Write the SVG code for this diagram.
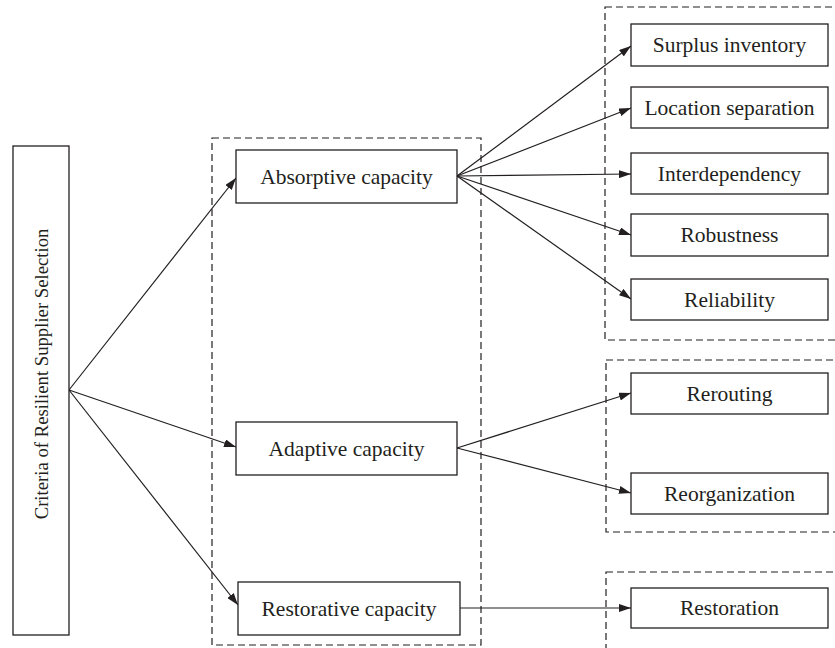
<svg xmlns="http://www.w3.org/2000/svg" width="835" height="648" viewBox="0 0 835 648">
<style>
.box{fill:#fff;stroke:#231f20;stroke-width:1.3}
.grp{fill:none;stroke:#231f20;stroke-width:1.2;stroke-dasharray:7 4}
.t{font-family:"Liberation Serif",serif;font-size:21.5px;fill:#231f20;text-anchor:middle;dominant-baseline:central}
.m{font-size:18.7px}
.c{fill:none;stroke:#231f20;stroke-width:1.2;marker-end:url(#ah)}
</style>
<defs>
<marker id="ah" viewBox="0 0 12 8" refX="12" refY="4" markerWidth="12" markerHeight="8" markerUnits="userSpaceOnUse" orient="auto">
<path d="M0,0 L12,4 L0,8 z" fill="#231f20"/>
</marker>
</defs>
<g id="groups">
<rect class="grp" x="212" y="138" width="269" height="507"/>
<rect class="grp" x="605" y="7" width="240" height="333"/>
<rect class="grp" x="606" y="360" width="240" height="172"/>
<rect class="grp" x="606" y="572" width="240" height="80"/>
</g>
<g id="connectors">
<line class="c" x1="69" y1="390" x2="236" y2="178"/>
<line class="c" x1="69" y1="390" x2="236" y2="447"/>
<line class="c" x1="69" y1="390" x2="238" y2="605"/>
<line class="c" x1="457" y1="176" x2="631" y2="46"/>
<line class="c" x1="457" y1="176" x2="631" y2="108"/>
<line class="c" x1="457" y1="176" x2="631" y2="174"/>
<line class="c" x1="457" y1="176" x2="631" y2="235"/>
<line class="c" x1="457" y1="176" x2="631" y2="299"/>
<line class="c" x1="457" y1="448" x2="631" y2="393"/>
<line class="c" x1="457" y1="448" x2="631" y2="493"/>
<line class="c" x1="460" y1="608" x2="631" y2="608"/>
</g>
<g id="criteria">
<rect class="box" x="13" y="146" width="56" height="489"/>
<text class="t m" transform="translate(41,374) rotate(-90)">Criteria of Resilient Supplier Selection</text>
</g>
<g id="absorptive">
<rect class="box" x="236" y="150" width="221" height="53"/>
<text class="t" x="346.5" y="176.5">Absorptive capacity</text>
</g>
<g id="adaptive">
<rect class="box" x="236" y="422" width="221" height="53"/>
<text class="t" x="346.5" y="448.5">Adaptive capacity</text>
</g>
<g id="restorative">
<rect class="box" x="238" y="582" width="222" height="53"/>
<text class="t" x="349" y="608.5">Restorative capacity</text>
</g>
<g id="surplus">
<rect class="box" x="631" y="24" width="197" height="42"/>
<text class="t" x="729.5" y="45">Surplus inventory</text>
</g>
<g id="location">
<rect class="box" x="631" y="87" width="197" height="41"/>
<text class="t" x="729.5" y="107.5">Location separation</text>
</g>
<g id="interdependency">
<rect class="box" x="631" y="153" width="197" height="41"/>
<text class="t" x="729.5" y="173.5">Interdependency</text>
</g>
<g id="robustness">
<rect class="box" x="631" y="214" width="197" height="42"/>
<text class="t" x="729.5" y="235">Robustness</text>
</g>
<g id="reliability">
<rect class="box" x="631" y="279" width="197" height="41"/>
<text class="t" x="729.5" y="299.5">Reliability</text>
</g>
<g id="rerouting">
<rect class="box" x="631" y="373" width="197" height="41"/>
<text class="t" x="729.5" y="393.5">Rerouting</text>
</g>
<g id="reorganization">
<rect class="box" x="631" y="473" width="197" height="41"/>
<text class="t" x="729.5" y="493.5">Reorganization</text>
</g>
<g id="restoration">
<rect class="box" x="631" y="588" width="197" height="40"/>
<text class="t" x="729.5" y="608">Restoration</text>
</g>
</svg>
